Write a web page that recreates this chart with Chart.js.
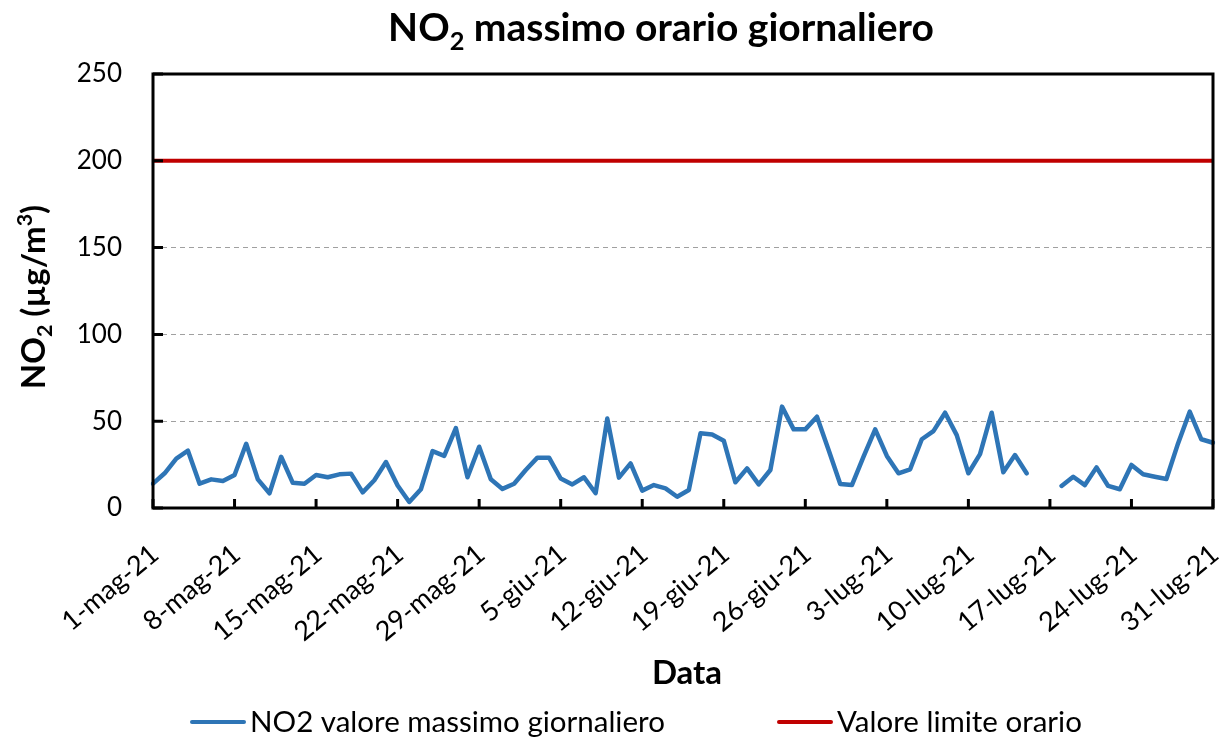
<!DOCTYPE html>
<html>
<head>
<meta charset="utf-8">
<script src="https://cdn.jsdelivr.net/npm/chart.js@4.4.0/dist/chart.umd.min.js"></script>
<style>
  html, body { margin: 0; padding: 0; background: #ffffff; }
  #wrap { width: 1222px; height: 740px; }
</style>
</head>
<body>
<div id="wrap"><canvas id="c" width="1222" height="740"></canvas></div>
<script>
// ---- data ----
const monthNames = ['mag', 'giu', 'lug'];
const monthDays = [31, 30, 31];
const yearSuffix = '21';

const no2Max = [
  14, 20, 28.5, 33, 14, 16.5, 15.5, 19, 37, 16.5,
  8.5, 29.5, 14.5, 14, 19, 17.7, 19.4, 19.8, 9, 16,
  26.5, 13, 3.5, 10.8, 32.8, 30, 46, 17.7, 35.3, 16.5,
  11, 14, 21.9, 29, 29, 17, 13.6, 17.7, 8.5, 51.5,
  17.5, 25.7, 10, 13.2, 11.3, 6.5, 10.4, 43, 42.4, 38.8,
  14.8, 22.8, 13.6, 21.9, 58.4, 45.3, 45.3, 52.6, 33.4, 13.8,
  13.2, 29.6, 45.3, 30, 20, 22.3, 39.6, 44.3, 54.9, 42,
  20, 31, 54.9, 20.6, 30.5, 20, null, null, 12.7, 18,
  13.2, 23.4, 12.7, 10.8, 24.8, 19.4, 18, 16.7, 37.2, 55.5,
  39.6, 37.6
];
const limitValue = 200;
const yTicks = [0, 50, 100, 150, 200, 250];
const labelEvery = 7;

const seriesNames = ['NO2 valore massimo giornaliero', 'Valore limite orario'];
const seriesColors = ['#2E75B6', '#C00000'];

// categories: one per day
const categories = [];
monthNames.forEach((m, mi) => {
  for (let d = 1; d <= monthDays[mi]; d++) categories.push(d + '-' + m + '-' + yearSuffix);
});
const limitSeries = categories.map(() => limitValue);

const FONT = 'Lato, "Open Sans", sans-serif';

// ---- helpers for rich text (subscript / superscript) ----
function drawRich(ctx, parts, size, weight, x, y, align) {
  const widths = parts.map(p => {
    const s = p.mode === 'n' ? size : size * 0.65;
    ctx.font = weight + ' ' + s + 'px ' + FONT;
    return ctx.measureText(p.t).width;
  });
  const total = widths.reduce((a, b) => a + b, 0);
  let cx = align === 'center' ? x - total / 2 : x;
  parts.forEach((p, i) => {
    const s = p.mode === 'n' ? size : size * 0.65;
    ctx.font = weight + ' ' + s + 'px ' + FONT;
    let dy = 0;
    if (p.mode === 'sub') dy = size * 0.22;
    if (p.mode === 'sup') dy = -size * 0.38;
    ctx.fillText(p.t, cx, y + dy);
    cx += widths[i];
  });
  return total;
}

const decorPlugin = {
  id: 'decor',
  afterDatasetsDraw(chart) {
    const { ctx, chartArea: a, scales } = chart;
    ctx.save();
    ctx.strokeStyle = '#000';
    ctx.lineWidth = 3;
    ctx.strokeRect(a.left, a.top, a.right - a.left, a.bottom - a.top);
    ctx.beginPath();
    yTicks.forEach(v => {
      const py = scales.y.getPixelForValue(v);
      ctx.moveTo(a.left, py);
      ctx.lineTo(a.left + 10, py);
    });
    for (let i = 0; i < categories.length; i += labelEvery) {
      const px = scales.x.getPixelForValue(i);
      ctx.moveTo(px, a.bottom);
      ctx.lineTo(px, a.bottom - 9);
    }
    ctx.stroke();
    ctx.restore();
  },
  afterDraw(chart) {
    const { ctx } = chart;
    ctx.save();
    ctx.fillStyle = '#000';
    ctx.textBaseline = 'alphabetic';
    ctx.textAlign = 'left';
    drawRich(ctx, [{t: 'NO', mode: 'n'}, {t: '2', mode: 'sub'}, {t: ' massimo orario giornaliero', mode: 'n'}],
      39, 'bold', 661, 41, 'center');
    drawRich(ctx, [{t: 'Data', mode: 'n'}], 33, 'bold', 687, 684, 'center');
    ctx.save();
    ctx.translate(45, 297);
    ctx.rotate(-Math.PI / 2);
    drawRich(ctx, [{t: 'NO', mode: 'n'}, {t: '2', mode: 'sub'}, {t: ' (\u00b5g/m', mode: 'n'}, {t: '3', mode: 'sup'}, {t: ')', mode: 'n'}],
      33, 'bold', 0, 0, 'center');
    ctx.restore();
    const ds = chart.data.datasets;
    const legendX = [190, 777];
    ds.forEach((d, i) => {
      const x = legendX[i];
      ctx.strokeStyle = d.borderColor;
      ctx.lineWidth = 4;
      ctx.lineCap = 'round';
      ctx.beginPath();
      ctx.moveTo(x + 2, 722);
      ctx.lineTo(x + 54, 722);
      ctx.stroke();
      ctx.font = 'normal 29.5px ' + FONT;
      ctx.fillText(d.label, x + 60, 732);
    });
    ctx.restore();
  }
};

new Chart(document.getElementById('c'), {
  type: 'line',
  data: {
    labels: categories,
    datasets: [
      { label: seriesNames[0], data: no2Max, borderColor: seriesColors[0], backgroundColor: seriesColors[0],
        borderWidth: 4.5, pointRadius: 0, tension: 0, spanGaps: false, borderJoinStyle: 'round', borderCapStyle: 'round' },
      { label: seriesNames[1], data: limitSeries, borderColor: seriesColors[1], backgroundColor: seriesColors[1],
        borderWidth: 4, pointRadius: 0, tension: 0 }
    ]
  },
  options: {
    responsive: false,
    animation: false,
    layout: { autoPadding: false, padding: { left: 0, right: 9, top: 74, bottom: 0 } },
    plugins: { legend: { display: false }, title: { display: false }, tooltip: { enabled: false } },
    scales: {
      x: {
        type: 'category',
        offset: false,
        grid: { display: false, drawTicks: false },
        border: { display: false },
        ticks: {
          autoSkip: false, minRotation: 40, maxRotation: 40,
          padding: 30, labelOffset: 2,
          color: '#000', font: { family: FONT, size: 27 },
          callback: (v, i) => (i % labelEvery === 0 ? categories[i] : '')
        },
        afterFit: s => { s.height = 232; s.paddingLeft = 0; s.paddingRight = 0; }
      },
      y: {
        min: 0, max: 250,
        afterBuildTicks: s => { s.ticks = yTicks.map(v => ({ value: v })); },
        grid: {
          drawTicks: false, lineWidth: 1,
          color: c => (c.tick && c.tick.value > 0 && c.tick.value < 200 ? '#A0A0A0' : 'rgba(0,0,0,0)')
        },
        border: { display: false, dash: [5, 4] },
        ticks: { padding: 31, color: '#000', font: { family: FONT, size: 26 } },
        afterFit: s => { s.width = 153; }
      }
    }
  },
  plugins: [decorPlugin]
});
</script>
</body>
</html>
